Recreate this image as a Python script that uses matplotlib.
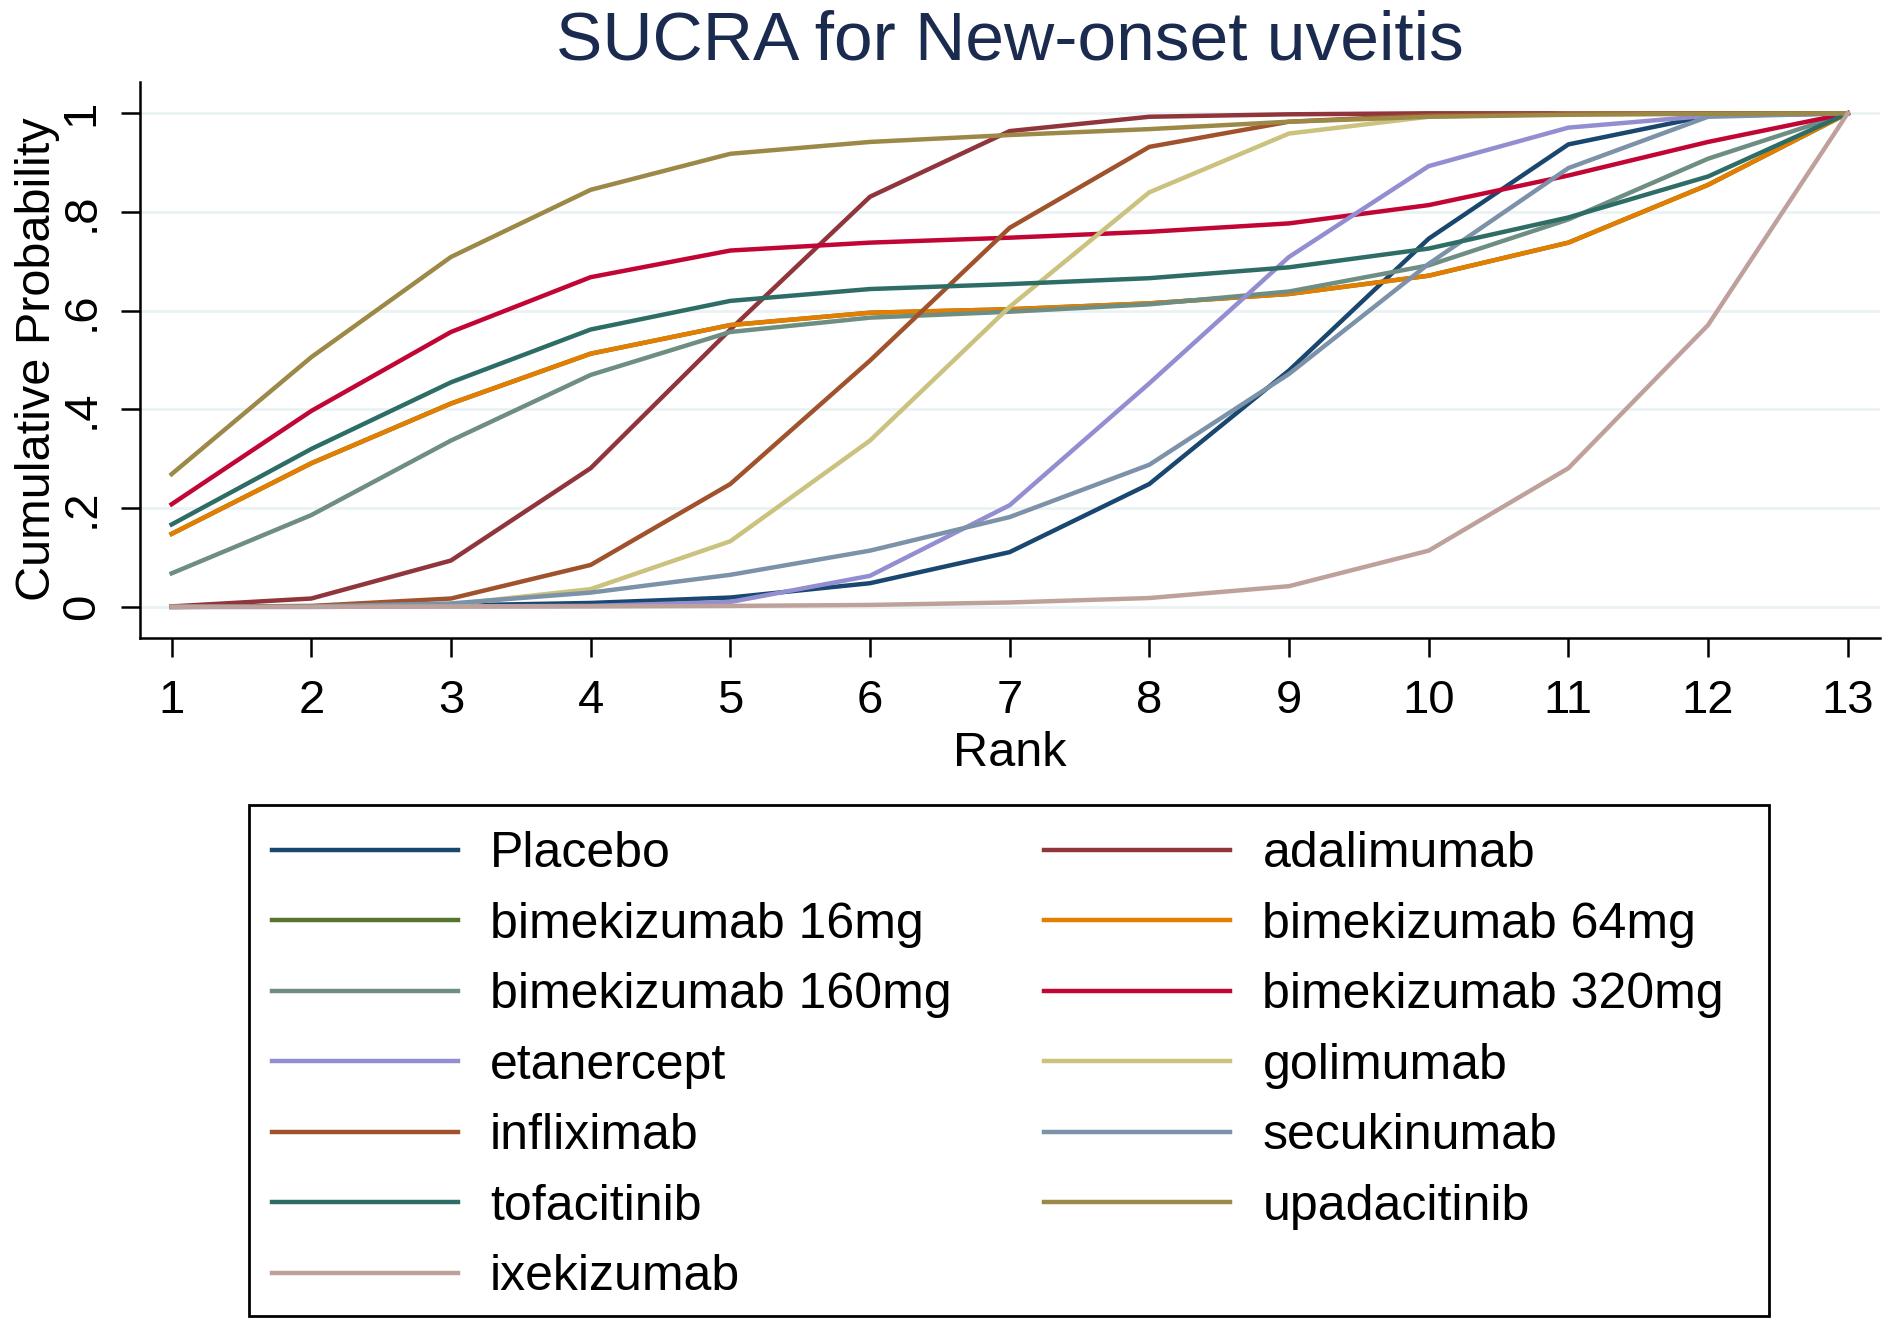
import matplotlib
matplotlib.use('Agg')
import matplotlib.pyplot as plt
from matplotlib.patches import Rectangle

plt.rcParams['font.family'] = ['Liberation Sans', 'DejaVu Sans']

ranks = list(range(1, 14))
tick_labels_y = ["0", ".2", ".4", ".6", ".8", "1"]
tick_values_y = [0, 0.2, 0.4, 0.6, 0.8, 1.0]

treatments = ["Placebo", "adalimumab", "bimekizumab 16mg", "bimekizumab 64mg",
              "bimekizumab 160mg", "bimekizumab 320mg", "etanercept", "golimumab",
              "infliximab", "secukinumab", "tofacitinib", "upadacitinib", "ixekizumab"]

placebo      = [0.000, 0.001, 0.003, 0.008, 0.019, 0.048, 0.111, 0.249, 0.479, 0.746, 0.937, 0.995, 1.0]
adalimumab   = [0.001, 0.017, 0.094, 0.281, 0.562, 0.831, 0.964, 0.993, 0.998, 1.000, 1.000, 1.000, 1.0]
bimek_16     = [0.148, 0.291, 0.412, 0.513, 0.571, 0.596, 0.603, 0.615, 0.634, 0.671, 0.738, 0.855, 1.0]
bimek_64     = [0.148, 0.291, 0.412, 0.513, 0.571, 0.596, 0.603, 0.615, 0.634, 0.671, 0.738, 0.855, 1.0]
bimek_160    = [0.068, 0.186, 0.337, 0.470, 0.557, 0.586, 0.598, 0.613, 0.639, 0.692, 0.785, 0.908, 1.0]
bimek_320    = [0.208, 0.397, 0.557, 0.668, 0.722, 0.738, 0.748, 0.760, 0.777, 0.814, 0.874, 0.942, 1.0]
etanercept   = [0.000, 0.000, 0.001, 0.002, 0.010, 0.063, 0.206, 0.453, 0.709, 0.893, 0.971, 0.995, 1.0]
golimumab    = [0.000, 0.001, 0.005, 0.036, 0.133, 0.337, 0.608, 0.840, 0.959, 0.993, 0.999, 1.000, 1.0]
infliximab   = [0.000, 0.002, 0.017, 0.085, 0.249, 0.499, 0.768, 0.932, 0.983, 0.996, 0.999, 1.000, 1.0]
secukinumab  = [0.000, 0.001, 0.007, 0.029, 0.065, 0.114, 0.182, 0.288, 0.472, 0.695, 0.889, 0.993, 1.0]
tofacitinib  = [0.167, 0.320, 0.455, 0.562, 0.620, 0.644, 0.654, 0.666, 0.688, 0.726, 0.789, 0.872, 1.0]
upadacitinib = [0.269, 0.506, 0.709, 0.845, 0.918, 0.942, 0.956, 0.968, 0.983, 0.993, 0.997, 0.999, 1.0]
ixekizumab   = [0.000, 0.000, 0.001, 0.001, 0.002, 0.004, 0.009, 0.018, 0.042, 0.114, 0.281, 0.571, 1.0]

series = [placebo, adalimumab, bimek_16, bimek_64, bimek_160, bimek_320, etanercept,
          golimumab, infliximab, secukinumab, tofacitinib, upadacitinib, ixekizumab]

colors = ["#1a476f", "#90353b", "#55752f", "#e37e00", "#6e8e84", "#c10534", "#938dd2",
          "#cac27e", "#a0522d", "#7b92a8", "#2d6d66", "#9c8847", "#bfa19c"]

fig = plt.figure(figsize=(18.89, 13.26), dpi=100)
ax = fig.add_axes([0.074, 0.519, 0.921, 0.419])

handles = []
for name, vals, col in zip(treatments, series, colors):
    h, = ax.plot(ranks, vals, color=col, lw=3.2, label=name, solid_joinstyle='miter')
    handles.append(h)

ax.set_xlim(0.772, 13.228)
ax.set_ylim(-0.0626, 1.063)
ax.set_xticks(ranks)
ax.set_xticklabels([str(r) for r in ranks], fontsize=34)
ax.set_yticks(tick_values_y)
ax.set_yticklabels(tick_labels_y, fontsize=34, rotation=90, va='center')

ax.yaxis.grid(True, color='#eaf2f3', lw=2)
ax.set_axisbelow(True)
for s in ['top', 'right']:
    ax.spines[s].set_visible(False)
for s in ['left', 'bottom']:
    ax.spines[s].set_linewidth(1.8)
    ax.spines[s].set_color('black')
ax.tick_params(axis='both', direction='out', length=14, width=1.8, color='black')
ax.tick_params(axis='x', pad=16)
ax.tick_params(axis='y', pad=12)

fig.text(0.5345, 0.955, "SUCRA for New-onset uveitis", fontsize=50, color='#1a2b4f',
         ha='center', va='baseline')
fig.text(0.5345, 0.422, "Rank", fontsize=35, ha='center', va='baseline')
fig.text(0.02, 0.729, "Cumulative Probability", fontsize=35, ha='center', va='center',
         rotation=90)

# legend frame
fig.patches.append(Rectangle((249 / 1889, 10 / 1326), (1769 - 249) / 1889, (1316 - 805) / 1326,
                             transform=fig.transFigure, fill=False, edgecolor='black',
                             lw=2, zorder=5))

order = [0, 2, 4, 6, 8, 10, 12, 1, 3, 5, 7, 9, 11]
leg = fig.legend([handles[i] for i in order], [treatments[i] for i in order],
                 loc='upper left', bbox_to_anchor=(0.132, 0.390), ncol=2,
                 fontsize=36, frameon=False,
                 handlelength=3.72, handletextpad=0.64, columnspacing=1.86,
                 borderpad=0.45, labelspacing=0.49, borderaxespad=0)
for line in leg.get_lines():
    line.set_linewidth(3.2)

fig.savefig("out.png", dpi=100)
